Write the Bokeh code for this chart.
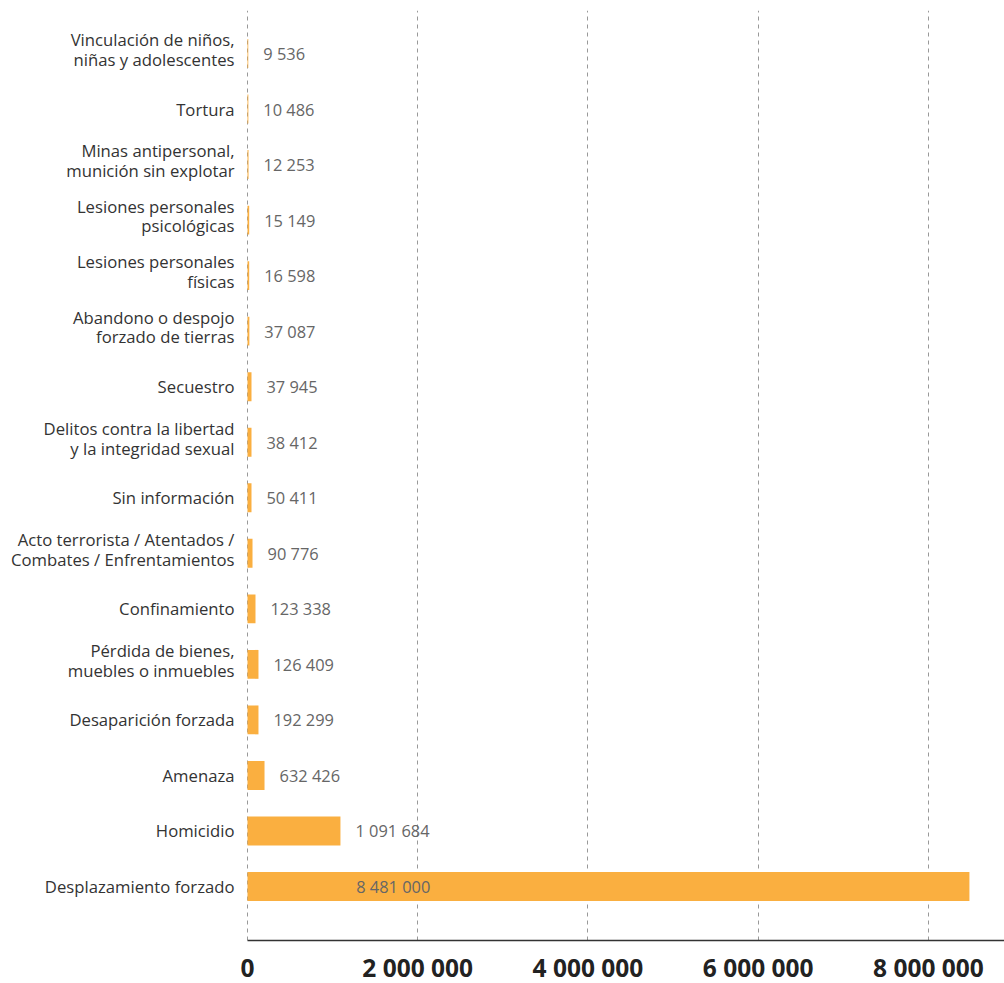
import numpy as np
from bokeh.plotting import figure
from bokeh.models import Range1d, FixedTicker, CustomJSTickFormatter, ColumnDataSource
from bokeh.core.properties import value
from bokeh.embed import file_html
from bokeh.resources import INLINE

# Categories, top to bottom as displayed
categories = [
    "Vinculación de niños,\nniñas y adolescentes",
    "Tortura",
    "Minas antipersonal,\nmunición sin explotar",
    "Lesiones personales\npsicológicas",
    "Lesiones personales\nfísicas",
    "Abandono o despojo\nforzado de tierras",
    "Secuestro",
    "Delitos contra la libertad\ny la integridad sexual",
    "Sin información",
    "Acto terrorista / Atentados /\nCombates / Enfrentamientos",
    "Confinamiento",
    "Pérdida de bienes,\nmuebles o inmuebles",
    "Desaparición forzada",
    "Amenaza",
    "Homicidio",
    "Desplazamiento forzado",
]
# Values printed as labels
values = [9536, 10486, 12253, 15149, 16598, 37087, 37945, 38412, 50411,
          90776, 123338, 126409, 192299, 632426, 1091684, 8481000]
# Bar lengths as drawn in the picture
bar_lengths = [9000, 10000, 12000, 20000, 20000, 22000, 47000, 47000, 47000,
               59000, 94000, 129000, 129000, 200000, 1092000, 8481000]
tick_values = [0, 2000000, 4000000, 6000000, 8000000]

n = len(categories)
ypos = [n - 1 - i for i in range(n)]

def fmt(v):
    return f"{v:,}".replace(",", " ")

label_x = [min(b, 1100000) for b in bar_lengths]
cat_yoff = [-4 if "\n" in c else 0 for c in categories]

src = ColumnDataSource(dict(
    y=ypos, cat=categories, bar=bar_lengths,
    lab=[fmt(v) for v in values], lx=label_x, zero=[0] * n, yoff=cat_yoff,
))

p = figure(
    frame_width=1004, frame_height=930,
    x_range=Range1d(-2901600, 8893000),
    y_range=Range1d(-0.972, 15.774),
    output_backend="svg", toolbar_location=None,
    min_border_left=0, min_border_right=0, min_border_top=10, min_border_bottom=0,
)
p.outline_line_color = None
p.background_fill_color = "white"
p.border_fill_color = "white"

p.hbar(y="y", left="zero", right="bar", height=0.52, source=src,
       fill_color="#FAAF40", line_color=None)

p.text(x="zero", y="y", text="cat", source=src, x_offset=-13, y_offset="yoff",
       text_align="right", text_baseline="middle",
       text_font=value("Open Sans"), text_font_size="16.7px",
       text_color="#333333", text_line_height=0.85)

p.text(x="lx", y="y", text="lab", source=src, x_offset=15,
       text_align="left", text_baseline="middle",
       text_font=value("Open Sans"), text_font_size="16.4px",
       text_color="#666666")

p.yaxis.visible = False
p.ygrid.visible = False

ax = p.xaxis[0]
ax.ticker = FixedTicker(ticks=tick_values)
ax.formatter = CustomJSTickFormatter(
    code="return Math.round(tick).toString().replace(/\\B(?=(\\d{3})+(?!\\d))/g, ' ');")
ax.bounds = (0, 8893000)
ax.axis_line_color = "#333333"
ax.axis_line_width = 1.5
ax.major_tick_line_color = None
ax.minor_tick_line_color = None
ax.major_label_text_font = "Open Sans"
ax.major_label_text_font_style = "bold"
ax.major_label_text_font_size = "24.5px"
ax.major_label_text_color = "#222222"
ax.major_label_standoff = 4

g = p.xgrid[0]
g.ticker = FixedTicker(ticks=tick_values)
g.grid_line_color = "#999999"
g.grid_line_dash = "4 4"
g.grid_line_width = 1

open("out.html", "w").write(file_html(p, INLINE))
